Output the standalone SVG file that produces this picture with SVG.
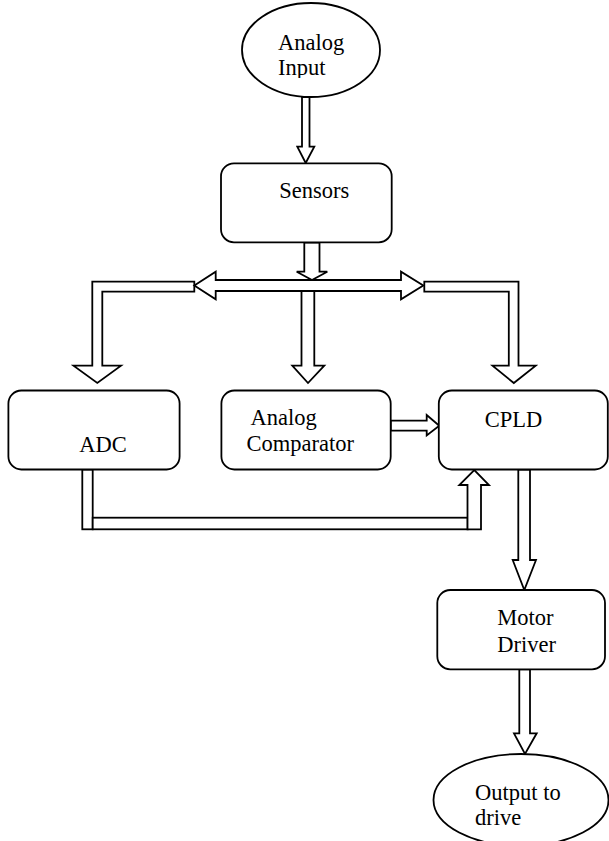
<svg xmlns="http://www.w3.org/2000/svg" width="609" height="841" viewBox="0 0 609 841">
<defs>
<style>
.shape{fill:#fff;stroke:#000;stroke-width:1.8;stroke-linejoin:miter}
.box{fill:#fff;stroke:#000;stroke-width:1.8}
.conn{fill:#fff;stroke:#000;stroke-width:1.8;stroke-linejoin:miter}
</style>
<clipPath id="clipIn"><rect x="240" y="0" width="150" height="78"/></clipPath>
</defs>
<rect width="609" height="841" fill="#fff"/>

<g id="connectors">
  <polygon class="conn" points="302,97 309.5,97 309.5,146.7 314.3,146.7 305.7,163 297.3,146.7 302,146.7"/>
  <polygon class="conn" points="304.3,242.5 319.5,242.5 319.5,271.7 327.3,271.7 312,280 296.7,271.7 304.3,271.7"/>
  <polygon class="conn" points="92.3,281.7 194.3,281.7 194.3,291.7 102.3,291.7 102.3,365.7 121,365.7 97.3,383 73.5,365.7 92.3,365.7"/>
  <polygon class="conn" points="424.3,281.7 518.5,281.7 518.5,365.7 535.7,365.7 513.8,383 492.5,365.7 508.8,365.7 508.8,291.7 424.3,291.7"/>
  <polygon class="conn" points="301.5,290 314.3,290 314.3,365.7 324.3,365.7 308,383 292.3,365.7 301.5,365.7"/>
  <polygon class="conn" points="194.3,285.5 215.7,271.7 215.7,280 401,280 401,271.7 423.3,285.5 401,299.3 401,291 215.7,291 215.7,299.3"/>
  <polygon class="conn" points="390.7,420.7 426.7,420.7 426.7,415 439.3,425.7 426.7,435.5 426.7,430.7 390.7,430.7"/>
  <polygon class="conn" points="518.3,469.5 530,469.5 530,560 536,560 524.3,590 512.7,560 518.3,560"/>
  <rect class="conn" x="82.3" y="469.5" width="10.4" height="59.8"/>
  <rect class="conn" x="92.7" y="517.7" width="375" height="11.6"/>
  <polygon class="conn" points="467.5,529.3 481,529.3 481,485 489,485 474.3,470 459.3,485 467.5,485"/>
  <polygon class="conn" points="519.3,669.3 530,669.3 530,733.3 536.7,733.3 525,754 514,733.3 519.3,733.3"/>
</g>

<g font-family="Liberation Serif, Times New Roman, serif" font-size="22.5" fill="#000">
<g id="analog-input">
  <ellipse class="shape" cx="311" cy="50" rx="69" ry="47"/>
  <g clip-path="url(#clipIn)">
    <text x="278" y="50">Analog</text>
    <text x="278" y="75">Input</text>
  </g>
</g>

<g id="sensors">
  <rect class="box" x="221" y="163.3" width="170.7" height="79" rx="13"/>
  <text x="279.3" y="197.7">Sensors</text>
</g>

<g id="adc">
  <rect class="box" x="8.4" y="390.5" width="171.2" height="79" rx="13"/>
  <text x="79.3" y="451.7">ADC</text>
</g>

<g id="analog-comparator">
  <rect class="box" x="221.4" y="390.5" width="169.3" height="79" rx="13"/>
  <text x="250.5" y="425">Analog</text>
  <text x="246.6" y="450.7">Comparator</text>
</g>

<g id="cpld">
  <rect class="box" x="438.8" y="390.5" width="169" height="79" rx="13"/>
  <text x="484.7" y="426.7">CPLD</text>
</g>

<g id="motor-driver">
  <rect class="box" x="437.3" y="590" width="167.7" height="79.3" rx="13"/>
  <text x="497.3" y="625">Motor</text>
  <text x="497.3" y="651.7">Driver</text>
</g>

<g id="output">
  <ellipse class="shape" cx="521" cy="800" rx="87.5" ry="46"/>
  <text x="475" y="800">Output to</text>
  <text x="475" y="825">drive</text>
</g>
</g>
</svg>
